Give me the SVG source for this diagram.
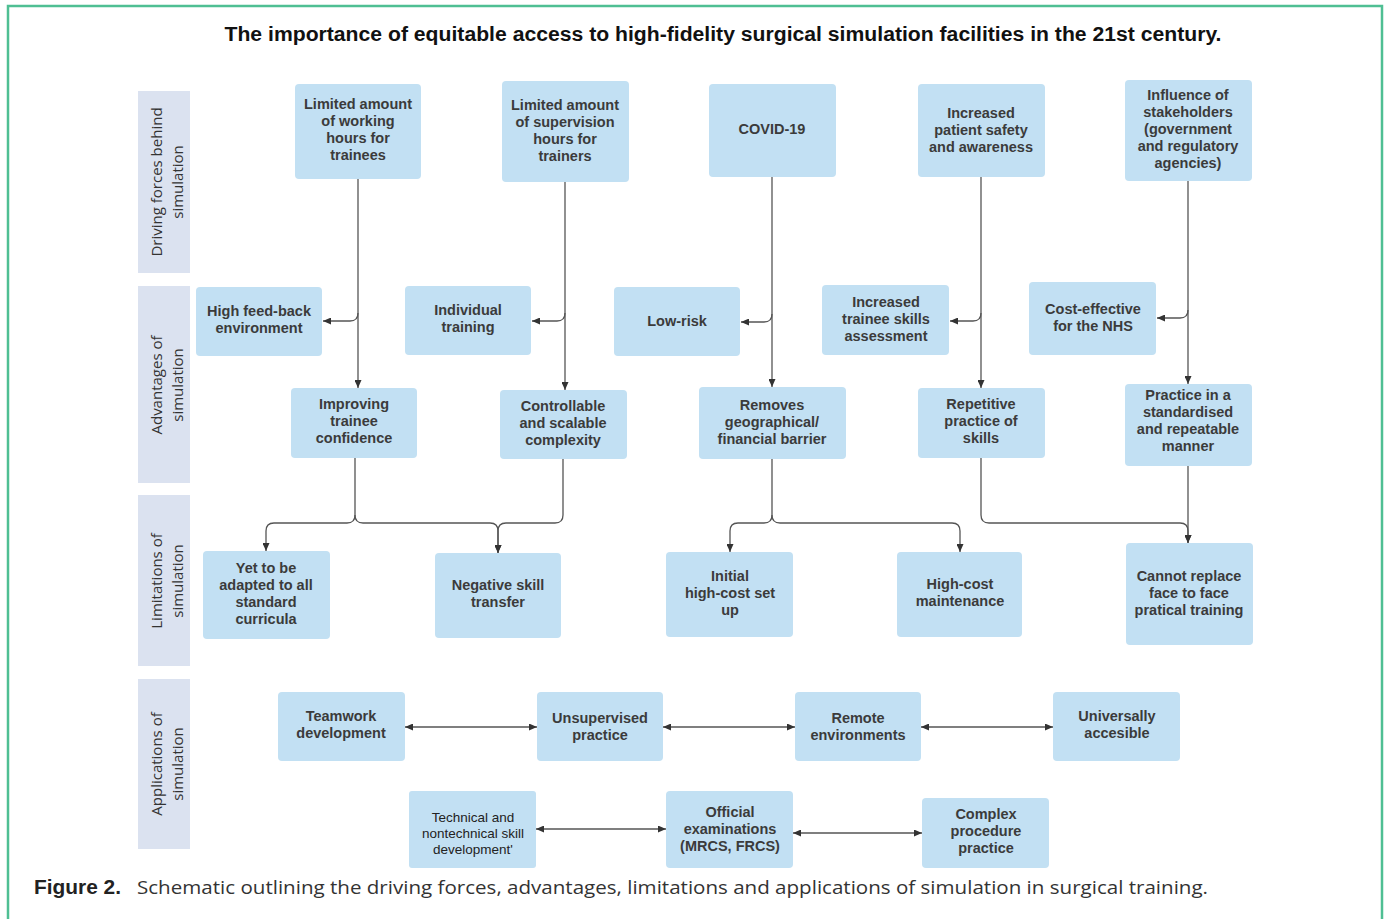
<svg xmlns="http://www.w3.org/2000/svg" width="1387" height="919" viewBox="0 0 1387 919">
<style>
.frame{fill:#fff;stroke:#4fbf93;stroke-width:2.5}
.lane{fill:#dbe2f0}
.lt{font-family:"Open Sans","Liberation Sans",sans-serif;font-size:15px;fill:#333;text-anchor:middle}
.nd{fill:#c2e0f3}
.t{font-family:"Liberation Sans",Arial,sans-serif;font-weight:bold;font-size:14.5px;fill:#3b3b3b;text-anchor:middle;dominant-baseline:central}
.tr{font-family:"Liberation Sans",Arial,sans-serif;font-size:13.5px;fill:#222;text-anchor:middle;dominant-baseline:central}
.c{fill:none;stroke:#555;stroke-width:1.3}
.title{font-family:"Liberation Sans",Arial,sans-serif;font-weight:bold;font-size:19.5px;fill:#111;text-anchor:middle}
.cap{font-family:"Open Sans","Liberation Sans",sans-serif;font-size:19px;fill:#333}
</style>
<defs>
<marker id="ah" viewBox="0 0 8 7" refX="8" refY="3.5" markerWidth="8" markerHeight="7" markerUnits="userSpaceOnUse" orient="auto-start-reverse"><path d="M0,0 L8,3.5 L0,7 z" fill="#333"/></marker>
</defs>
<rect class="frame" x="8" y="6" width="1374" height="930"/>
<text class="title" x="723" y="41" textLength="997" lengthAdjust="spacingAndGlyphs">The importance of equitable access to high-fidelity surgical simulation facilities in the 21st century.</text>

<g id="lanes">
<g id="lane-driving"><rect class="lane" x="138" y="91" width="52" height="182"/>
<text class="lt" transform="translate(162,182) rotate(-90)">Driving forces behind</text>
<text class="lt" transform="translate(183,182) rotate(-90)">simulation</text></g>
<g id="lane-advantages"><rect class="lane" x="138" y="286" width="52" height="197"/>
<text class="lt" transform="translate(162,385) rotate(-90)">Advantages of</text>
<text class="lt" transform="translate(183,385) rotate(-90)">simulation</text></g>
<g id="lane-limitations"><rect class="lane" x="138" y="495" width="52" height="171"/>
<text class="lt" transform="translate(162,581) rotate(-90)">Limitations of</text>
<text class="lt" transform="translate(183,581) rotate(-90)">simulation</text></g>
<g id="lane-applications"><rect class="lane" x="138" y="679" width="52" height="170"/>
<text class="lt" transform="translate(162,764) rotate(-90)">Applications of</text>
<text class="lt" transform="translate(183,764) rotate(-90)">simulation</text></g>
</g>

<g id="connectors">
<path class="c" d="M358 179 L358 388" marker-end="url(#ah)"/>
<path class="c" d="M358 313 Q358 321 350 321 L323 321" marker-end="url(#ah)"/>
<path class="c" d="M565 182 L565 390" marker-end="url(#ah)"/>
<path class="c" d="M565 313 Q565 321 557 321 L532 321" marker-end="url(#ah)"/>
<path class="c" d="M772 177 L772 387" marker-end="url(#ah)"/>
<path class="c" d="M772 314 Q772 322 764 322 L741 322" marker-end="url(#ah)"/>
<path class="c" d="M981 177 L981 388" marker-end="url(#ah)"/>
<path class="c" d="M981 313 Q981 321 973 321 L950 321" marker-end="url(#ah)"/>
<path class="c" d="M1188 181 L1188 384" marker-end="url(#ah)"/>
<path class="c" d="M1188 310 Q1188 318 1180 318 L1157 318" marker-end="url(#ah)"/>

<path class="c" d="M355 458 L355 515 Q355 523 347 523 L274 523 Q266 523 266 531 L266 551" marker-end="url(#ah)"/>
<path class="c" d="M355 515 Q355 523 363 523 L490 523 Q498 523 498 531 L498 553" marker-end="url(#ah)"/>
<path class="c" d="M563 459 L563 515 Q563 523 555 523 L506 523 Q498 523 498 531 L498 553" marker-end="url(#ah)"/>
<path class="c" d="M772 459 L772 515 Q772 523 764 523 L738 523 Q730 523 730 531 L730 552" marker-end="url(#ah)"/>
<path class="c" d="M772 515 Q772 523 780 523 L952 523 Q960 523 960 531 L960 552" marker-end="url(#ah)"/>
<path class="c" d="M981 458 L981 515 Q981 523 989 523 L1180 523 Q1188 523 1188 531 L1188 543" marker-end="url(#ah)"/>
<path class="c" d="M1188 466 L1188 543" marker-end="url(#ah)"/>

<path class="c" d="M405 727 L537 727" marker-start="url(#ah)" marker-end="url(#ah)"/>
<path class="c" d="M663 727 L795 727" marker-start="url(#ah)" marker-end="url(#ah)"/>
<path class="c" d="M921 727 L1053 727" marker-start="url(#ah)" marker-end="url(#ah)"/>
<path class="c" d="M536 829 L666 829" marker-start="url(#ah)" marker-end="url(#ah)"/>
<path class="c" d="M793 833 L922 833" marker-start="url(#ah)" marker-end="url(#ah)"/>
</g>

<g id="n-working-hours"><rect class="nd" x="295" y="84" width="126" height="95" rx="4"/>
<text class="t" x="358" y="104">Limited amount</text><text class="t" x="358" y="121">of working</text><text class="t" x="358" y="138">hours for</text><text class="t" x="358" y="155">trainees</text></g>
<g id="n-supervision-hours"><rect class="nd" x="502" y="81" width="127" height="101" rx="4"/>
<text class="t" x="565" y="105">Limited amount</text><text class="t" x="565" y="122">of supervision</text><text class="t" x="565" y="139">hours for</text><text class="t" x="565" y="156">trainers</text></g>
<g id="n-covid"><rect class="nd" x="709" y="84" width="127" height="93" rx="4"/>
<text class="t" x="772" y="129">COVID-19</text></g>
<g id="n-patient-safety"><rect class="nd" x="918" y="84" width="127" height="93" rx="4"/>
<text class="t" x="981" y="113">Increased</text><text class="t" x="981" y="130">patient safety</text><text class="t" x="981" y="147">and awareness</text></g>
<g id="n-stakeholders"><rect class="nd" x="1125" y="80" width="127" height="101" rx="4"/>
<text class="t" x="1188" y="95">Influence of</text><text class="t" x="1188" y="112">stakeholders</text><text class="t" x="1188" y="129">(government</text><text class="t" x="1188" y="146">and regulatory</text><text class="t" x="1188" y="163">agencies)</text></g>

<g id="n-feedback"><rect class="nd" x="196" y="287" width="126" height="69" rx="4"/>
<text class="t" x="259" y="311">High feed-back</text><text class="t" x="259" y="328">environment</text></g>
<g id="n-individual"><rect class="nd" x="405" y="286" width="126" height="69" rx="4"/>
<text class="t" x="468" y="310">Individual</text><text class="t" x="468" y="327">training</text></g>
<g id="n-lowrisk"><rect class="nd" x="614" y="287" width="126" height="69" rx="4"/>
<text class="t" x="677" y="321">Low-risk</text></g>
<g id="n-assessment"><rect class="nd" x="822" y="285" width="127" height="70" rx="4"/>
<text class="t" x="886" y="302">Increased</text><text class="t" x="886" y="319">trainee skills</text><text class="t" x="886" y="336">assessment</text></g>
<g id="n-cost-effective"><rect class="nd" x="1029" y="282" width="127" height="73" rx="4"/>
<text class="t" x="1093" y="309">Cost-effective</text><text class="t" x="1093" y="326">for the NHS</text></g>

<g id="n-confidence"><rect class="nd" x="291" y="388" width="126" height="70" rx="4"/>
<text class="t" x="354" y="404">Improving</text><text class="t" x="354" y="421">trainee</text><text class="t" x="354" y="438">confidence</text></g>
<g id="n-controllable"><rect class="nd" x="500" y="390" width="127" height="69" rx="4"/>
<text class="t" x="563" y="406">Controllable</text><text class="t" x="563" y="423">and scalable</text><text class="t" x="563" y="440">complexity</text></g>
<g id="n-barrier"><rect class="nd" x="699" y="387" width="147" height="72" rx="4"/>
<text class="t" x="772" y="405">Removes</text><text class="t" x="772" y="422">geographical/</text><text class="t" x="772" y="439">financial barrier</text></g>
<g id="n-repetitive"><rect class="nd" x="918" y="388" width="127" height="70" rx="4"/>
<text class="t" x="981" y="404">Repetitive</text><text class="t" x="981" y="421">practice of</text><text class="t" x="981" y="438">skills</text></g>
<g id="n-standardised"><rect class="nd" x="1125" y="384" width="127" height="82" rx="4"/>
<text class="t" x="1188" y="395">Practice in a</text><text class="t" x="1188" y="412">standardised</text><text class="t" x="1188" y="429">and repeatable</text><text class="t" x="1188" y="446">manner</text></g>

<g id="n-curricula"><rect class="nd" x="203" y="551" width="127" height="88" rx="4"/>
<text class="t" x="266" y="568">Yet to be</text><text class="t" x="266" y="585">adapted to all</text><text class="t" x="266" y="602">standard</text><text class="t" x="266" y="619">curricula</text></g>
<g id="n-negative"><rect class="nd" x="435" y="553" width="126" height="85" rx="4"/>
<text class="t" x="498" y="585">Negative skill</text><text class="t" x="498" y="602">transfer</text></g>
<g id="n-setup"><rect class="nd" x="666" y="552" width="127" height="85" rx="4"/>
<text class="t" x="730" y="576">Initial</text><text class="t" x="730" y="593">high-cost set</text><text class="t" x="730" y="610">up</text></g>
<g id="n-maintenance"><rect class="nd" x="897" y="552" width="125" height="85" rx="4"/>
<text class="t" x="960" y="584">High-cost</text><text class="t" x="960" y="601">maintenance</text></g>
<g id="n-face"><rect class="nd" x="1126" y="543" width="127" height="102" rx="4"/>
<text class="t" x="1189" y="576">Cannot replace</text><text class="t" x="1189" y="593">face to face</text><text class="t" x="1189" y="610">pratical training</text></g>

<g id="n-teamwork"><rect class="nd" x="278" y="692" width="127" height="69" rx="4"/>
<text class="t" x="341" y="716">Teamwork</text><text class="t" x="341" y="733">development</text></g>
<g id="n-unsupervised"><rect class="nd" x="537" y="692" width="126" height="69" rx="4"/>
<text class="t" x="600" y="718">Unsupervised</text><text class="t" x="600" y="735">practice</text></g>
<g id="n-remote"><rect class="nd" x="795" y="692" width="126" height="69" rx="4"/>
<text class="t" x="858" y="718">Remote</text><text class="t" x="858" y="735">environments</text></g>
<g id="n-universal"><rect class="nd" x="1053" y="692" width="127" height="69" rx="4"/>
<text class="t" x="1117" y="716">Universally</text><text class="t" x="1117" y="733">accesible</text></g>
<g id="n-technical"><rect class="nd" x="409" y="791" width="127" height="77" rx="3"/>
<text class="tr" x="473" y="817">Technical and</text><text class="tr" x="473" y="833">nontechnical skill</text><text class="tr" x="473" y="849">development'</text></g>
<g id="n-official"><rect class="nd" x="666" y="791" width="127" height="77" rx="4"/>
<text class="t" x="730" y="812">Official</text><text class="t" x="730" y="829">examinations</text><text class="t" x="730" y="846">(MRCS, FRCS)</text></g>
<g id="n-complex"><rect class="nd" x="922" y="798" width="127" height="70" rx="4"/>
<text class="t" x="986" y="814">Complex</text><text class="t" x="986" y="831">procedure</text><text class="t" x="986" y="848">practice</text></g>

<text x="34" y="894" font-family="'Liberation Sans',Arial,sans-serif" font-weight="bold" font-size="19.5" fill="#222" textLength="87" lengthAdjust="spacingAndGlyphs">Figure 2.</text>
<text class="cap" x="137" y="894" textLength="1071" lengthAdjust="spacingAndGlyphs">Schematic outlining the driving forces, advantages, limitations and applications of simulation in surgical training.</text>
</svg>
